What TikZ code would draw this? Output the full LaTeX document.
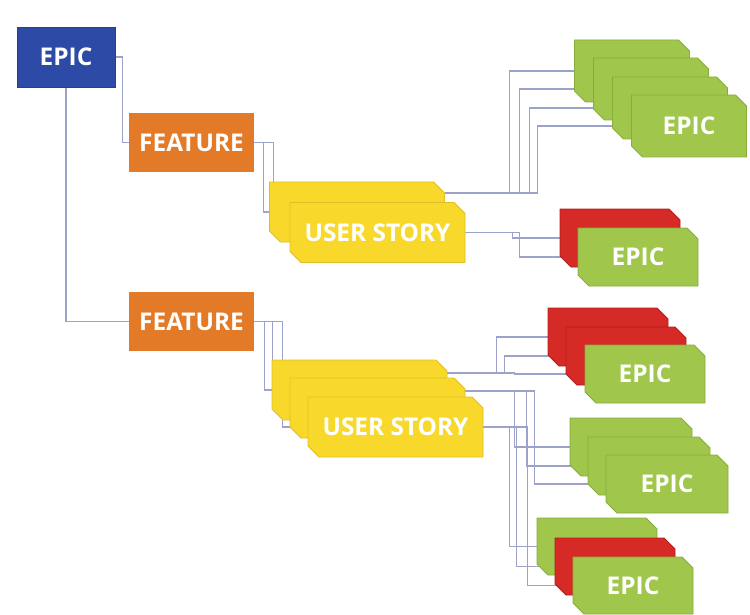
\documentclass[tikz,border=0pt]{standalone}
\usepackage{fontspec}
\setmainfont{Open Sans}
\usetikzlibrary{backgrounds}
\definecolor{cblue}{HTML}{2D4AA7}
\definecolor{cblued}{HTML}{24408F}
\definecolor{corange}{HTML}{E27A27}
\definecolor{cyellow}{HTML}{F8D92B}
\definecolor{cyellowd}{HTML}{E0BE28}
\definecolor{cgreen}{HTML}{A0C74B}
\definecolor{cgreend}{HTML}{86AD3C}
\definecolor{cred}{HTML}{D62A26}
\definecolor{credd}{HTML}{B01E1E}
\definecolor{clink}{HTML}{9CA2CA}
\def\chm{11}
% chamfered box: style, name, cx, cy, w, h, text
\newcommand\cbox[7]{%
  \path[#1] (#3-#5/2,#4-#6/2) -- (#3+#5/2-\chm,#4-#6/2) -- (#3+#5/2,#4-#6/2+\chm)
    -- (#3+#5/2,#4+#6/2) -- (#3-#5/2+\chm,#4+#6/2) -- (#3-#5/2,#4+#6/2-\chm) -- cycle;
  \node[lbl, rectangle, inner sep=0pt, minimum width=#5bp, minimum height=#6bp] (#2) at (#3,#4) {#7};
}
\tikzset{
  lbl/.style={text=white, font=\fontsize{24.5}{24.5}\selectfont\bfseries},
  plainbox/.style={rectangle, lbl, inner sep=0pt},
  epicbox/.style={plainbox, fill=cblue, draw=cblued, line width=0.6bp, minimum width=98bp, minimum height=60bp},
  featbox/.style={plainbox, fill=corange, minimum width=125bp, minimum height=59bp},
  ybox/.style={fill=cyellow, draw=cyellowd, line width=0.8bp, line join=round},
  gbox/.style={fill=cgreen, draw=cgreend, line width=0.8bp, line join=round},
  rbox/.style={fill=cred, draw=credd, line width=0.8bp, line join=round},
  link/.style={draw=clink, line width=1.1bp},
}
\begin{document}
\begin{tikzpicture}[x=1bp,y=-1bp]
\useasboundingbox (0,0) rectangle (750,615);
% left column
\node[epicbox] (E0) at (66,57) {EPIC};
\node[featbox] (F1) at (191.5,142.5) {FEATURE};
\node[featbox] (F2) at (191.5,321.5) {FEATURE};
% user stories
\cbox{ybox}{U1a}{357}{212}{175}{60}{}
\cbox{ybox}{U1b}{377.5}{232.5}{175}{60}{USER STORY}
\cbox{ybox}{U2a}{359.5}{390}{175}{60}{}
\cbox{ybox}{U2b}{377.5}{408}{175}{60}{}
\cbox{ybox}{U2c}{395.5}{427}{175}{60}{USER STORY}
% group A
\cbox{gbox}{A1}{632}{71}{115}{62}{}
\cbox{gbox}{A2}{651}{89}{115}{62}{}
\cbox{gbox}{A3}{670}{108}{115}{62}{}
\cbox{gbox}{A4}{689}{126}{115}{62}{EPIC}
% group B
\cbox{rbox}{B1}{620}{238}{120}{58}{}
\cbox{gbox}{B2}{638}{257}{120}{58}{EPIC}
% group C
\cbox{rbox}{C1}{608}{337}{120}{58}{}
\cbox{rbox}{C2}{626}{356}{120}{58}{}
\cbox{gbox}{C3}{645}{374}{120}{58}{EPIC}
% group D
\cbox{gbox}{D1}{631}{447}{122}{58}{}
\cbox{gbox}{D2}{649}{466}{122}{58}{}
\cbox{gbox}{D3}{667}{484}{122}{58}{EPIC}
% group E
\cbox{gbox}{G1}{597}{546.5}{120}{57}{}
\cbox{rbox}{G2}{615}{566.5}{120}{57}{}
\cbox{gbox}{G3}{633}{585.5}{120}{57}{EPIC}
% connectors
\begin{pgfonlayer}{background}
\fill[white] (0,0) rectangle (750,615);
\draw[link] (E0.east) -- ++(7,0) |- (F1.west);
\draw[link] (E0.south) |- (F2.west);
\draw[link] (F1.east) -- ++(9,0) |- (U1a.west);
\draw[link] (F1.east) -- ++(19,0) |- (U1b.west);
\draw[link] (F2.east) -- ++(10,0) |- (U2a.west);
\draw[link] (F2.east) -- ++(18,0) |- (U2b.west);
\draw[link] (F2.east) -- ++(28,0) |- (U2c.west);
\coordinate (s1) at ([yshift=19bp]U1a.east);
\draw[link] (s1) -| ([xshift=-65bp]A1.west) -- (A1.west);
\draw[link] (s1) -| ([xshift=-74bp]A2.west) -- (A2.west);
\draw[link] (s1) -| ([xshift=-83bp]A3.west) -- (A3.west);
\draw[link] (s1) -| ([xshift=-94bp]A4.west) -- (A4.west);
\draw[link] (U1b.east) -| ([xshift=-47bp]B1.west) -- (B1.west);
\draw[link] (U1b.east) -| ([xshift=-58bp]B2.west) -- (B2.west);
\coordinate (s2) at ([yshift=17bp]U2a.east);
\draw[link] (s2) -| ([xshift=-51bp]C1.west) -- (C1.west);
\draw[link] (s2) -| ([xshift=-61bp]C2.west) -- (C2.west);
\draw[link] (s2) -| ([xshift=-70bp]C3.west) -- (C3.west);
\coordinate (s3) at ([yshift=17bp]U2b.east);
\draw[link] (s3) -| ([xshift=-55bp]D1.west) -- (D1.west);
\draw[link] (s3) -| ([xshift=-61bp]D2.west) -- (D2.west);
\draw[link] (s3) -| ([xshift=-71bp]D3.west) -- (D3.west);
\draw[link] (U2c.east) -| ([xshift=-27bp]G1.west) -- (G1.west);
\draw[link] (U2c.east) -| ([xshift=-38bp]G2.west) -- (G2.west);
\draw[link] (U2c.east) -| ([xshift=-45bp]G3.west) -- (G3.west);
\end{pgfonlayer}
\end{tikzpicture}
\end{document}
